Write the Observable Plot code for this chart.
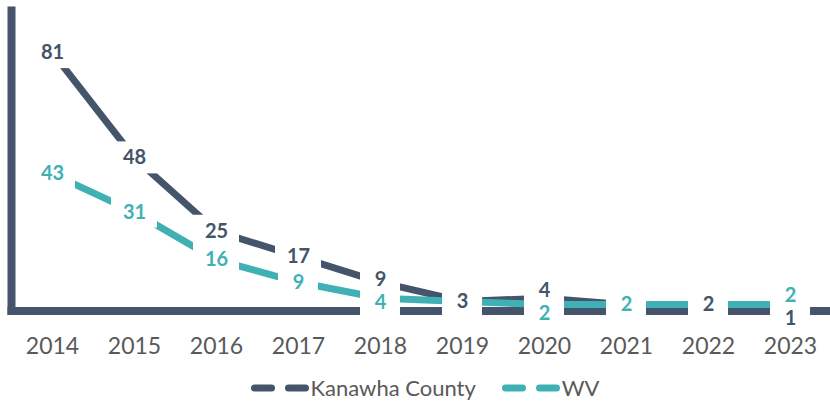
<!DOCTYPE html>
<html>
<head>
<meta charset="utf-8">
<script src="https://cdn.jsdelivr.net/npm/d3@7"></script>
<script src="https://cdn.jsdelivr.net/npm/@observablehq/plot@0.6"></script>
<style>
  body { margin: 0; background: #fff; font-family: Lato, sans-serif; }
  #chart svg { display: block; }
  #legend { height: 29px; padding-top: 8px; display: flex; justify-content: center; align-items: center;
            font-family: Lato, sans-serif; font-size: 22px; color: #595959; padding-left: 20px; }
  .item { display: flex; align-items: center; margin: 0 13px; }
  .item svg { display: block; }
</style>
</head>
<body>
<div id="chart"></div>
<div id="legend"></div>
<script>
// ---- data ----
const years = [2014, 2015, 2016, 2017, 2018, 2019, 2020, 2021, 2022, 2023];
const kanawha = [81, 48, 25, 17, 9, 3, 4, 2, 2, 1];
const wv = [43, 31, 16, 9, 4, 3, 2, 2, 2, 2];
const seriesNames = ["Kanawha County", "WV"];
const seriesColors = ["#44546A", "#3FB1B5"];
// labels not visible in the picture (covered by the other series' label)
const hiddenLabels = { "Kanawha County": [2021], "WV": [2019, 2022] };

const seriesValues = [kanawha, wv];
const rows = [];
seriesNames.forEach((s, si) => years.forEach((yr, i) => rows.push({ series: s, year: yr, value: seriesValues[si][i] })));

const yOpts = { domain: [0, 94.2], range: [310.5, 10] };
const yScale = Plot.scale({ y: yOpts });

// label positions (nudge overlapping labels apart, like the spreadsheet does)
const labels = rows
  .filter(r => !hiddenLabels[r.series].includes(r.year))
  .map(r => ({ ...r, py: yScale.apply(r.value) }));
const minSep = 23;
years.forEach(yr => {
  const pair = labels.filter(l => l.year === yr);
  if (pair.length === 2 && Math.abs(pair[0].py - pair[1].py) < minSep) {
    const mid = (pair[0].py + pair[1].py) / 2 + 1;
    const [a, b] = pair[0].py <= pair[1].py ? pair : [pair[1], pair[0]];
    a.py = mid - minSep / 2;
    b.py = mid + minSep / 2;
  }
});
labels.forEach(l => l.labelValue = yScale.invert(l.py));

// white label boxes drawn through Plot's scales
function labelBoxes(index, scales) {
  const g = d3.create("svg:g");
  for (const l of labels) {
    const cx = scales.x(l.year), cy = scales.y(l.labelValue);
    const w = 6 * String(l.value).length + 34, h = 32;
    g.append("rect").attr("x", cx - w / 2).attr("y", cy - h / 2)
      .attr("width", w).attr("height", h).attr("fill", "white");
  }
  return g.node();
}

const plot = Plot.plot({
  width: 830,
  height: 365,
  marginLeft: 11,
  marginRight: 0,
  marginTop: 10,
  marginBottom: 54.5,
  style: { fontFamily: "Lato, sans-serif", background: "white", color: "#595959" },
  x: { type: "point", domain: years, padding: 0.476, axis: null },
  y: { ...yOpts, axis: null },
  color: { domain: seriesNames, range: seriesColors },
  marks: [
    Plot.frame({ anchor: "left", stroke: "#44546A", strokeWidth: 8, strokeLinecap: "square" }),
    Plot.frame({ anchor: "bottom", stroke: "#44546A", strokeWidth: 8, strokeLinecap: "square" }),
    Plot.line(rows, { x: "year", y: "value", z: "series", stroke: "series", strokeWidth: 7 }),
    labelBoxes,
    Plot.text(labels, { x: "year", y: "labelValue", text: d => String(d.value), fill: "series",
                        fontSize: 20, fontWeight: "bold" }),
    Plot.axisX({ tickSize: 0, tickPadding: 27, fontSize: 23, fill: "#595959",
                 tickFormat: d => String(d), label: null })
  ]
});
document.getElementById("chart").appendChild(plot);

// legend
const legend = d3.select("#legend");
seriesNames.forEach((s, i) => {
  const item = legend.append("div").attr("class", "item");
  const sw = item.append("svg").attr("width", 60).attr("height", 12);
  sw.append("line").attr("x1", 3.5).attr("x2", 56.5).attr("y1", 6).attr("y2", 6)
    .attr("stroke", seriesColors[i]).attr("stroke-width", 7)
    .attr("stroke-linecap", "round").attr("stroke-dasharray", "17,17");
  item.append("span").text(s);
});
</script>
</body>
</html>
